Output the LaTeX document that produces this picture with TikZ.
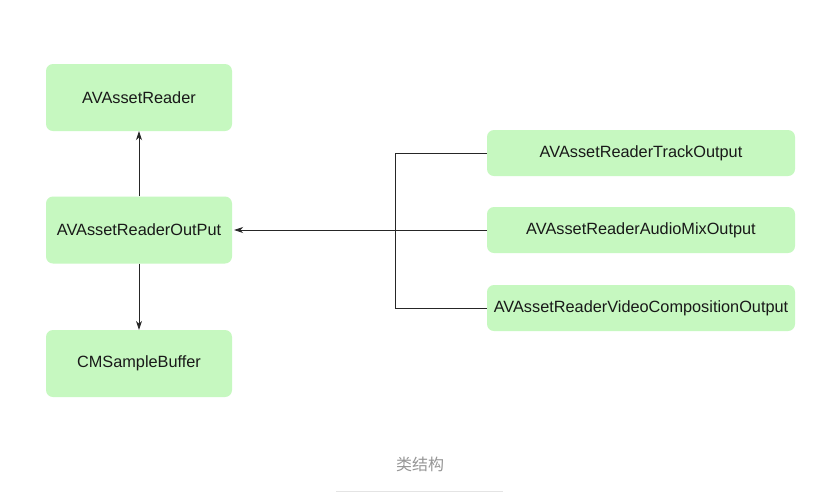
\documentclass[tikz,border=0pt]{standalone}
\usepackage{fontspec}
\setmainfont{Liberation Sans}
\newfontfamily\cjk{Noto Sans CJK SC}
\usetikzlibrary{arrows.meta}
\definecolor{boxgreen}{RGB}{198,248,192}
\definecolor{capgray}{RGB}{150,150,150}
\definecolor{rulegray}{RGB}{228,228,228}
\tikzset{
  cls/.style={fill=boxgreen, draw=none, rounded corners=7pt, inner sep=0pt,
    font=\fontsize{16.3}{18}\selectfont, text=black!90},
  leftcls/.style={cls, minimum width=186pt, minimum height=67pt},
  rightcls/.style={cls, minimum width=308pt, minimum height=46pt},
  conn/.style={draw=black!85, line width=0.8pt},
  arr/.style={conn, -{Stealth[length=9pt,width=6pt]}}
}
\begin{document}
\begin{tikzpicture}[x=1pt,y=-1pt]
\useasboundingbox (0,0) rectangle (838,499);
\fill[white] (0,0) rectangle (838,499);
\node[leftcls] (reader) at (139,97.5) {AVAssetReader};
\node[leftcls] (output) at (139,230) {AVAssetReaderOutPut};
\node[leftcls] (buffer) at (139,363.5) {CMSampleBuffer};
\node[rightcls] (track) at (641,153) {AVAssetReaderTrackOutput};
\node[rightcls] (audio) at (641,230) {AVAssetReaderAudioMixOutput};
\node[rightcls] (video) at (641,308) {AVAssetReaderVideoCompositionOutput};
\coordinate (bustop) at (395,153);
\coordinate (busbot) at (395,308);
\draw[arr] (output.north) -- (reader.south);
\draw[arr] (output.south) -- (buffer.north);
\draw[arr] (audio.west) -- ([xshift=2pt]output.east);
\draw[conn] (track.west) -- (bustop) -- (busbot) -- (video.west);
\node[font=\cjk\fontsize{16}{18}\selectfont, text=capgray] (cap) at (420,464) {类结构};
\coordinate (ruleL) at (336,491);
\coordinate (ruleR) at (503,491);
\draw[rulegray, line width=0.8pt] (ruleL) -- (ruleR);
\end{tikzpicture}
\end{document}
